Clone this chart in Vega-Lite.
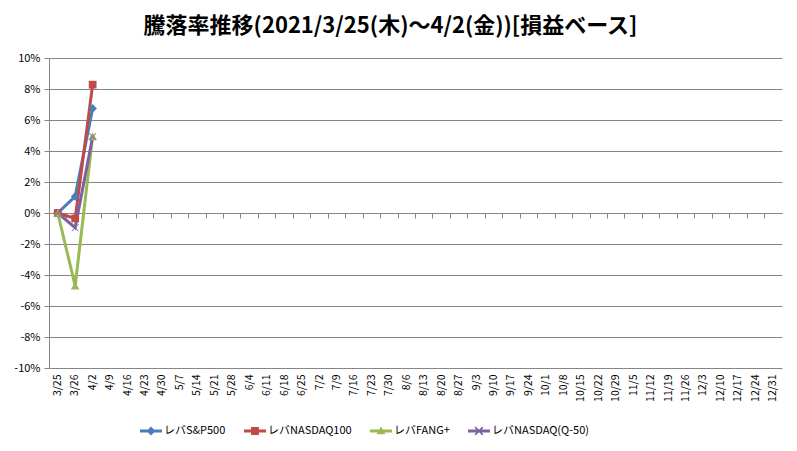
{
  "$schema": "https://vega.github.io/schema/vega-lite/v6.json",
  "width": 733,
  "height": 310,
  "autosize": "none",
  "padding": {"left": 49, "top": 58, "right": 15, "bottom": 83},
  "background": "white",
  "title": {
    "text": "騰落率推移(2021/3/25(木)～4/2(金))[損益ベース]",
    "fontSize": 22,
    "fontWeight": "bold",
    "font": "Noto Sans CJK JP",
    "color": "#000000",
    "anchor": "middle",
    "dx": -25,
    "offset": 14
  },
  "config": {
    "view": {"stroke": null},
    "font": "Noto Sans CJK JP",
    "axis": {"labelColor": "#000000", "labelFont": "Noto Sans CJK JP"}
  },
  "data": {
    "values": [
      {"date": "3/25", "series": "レバS&P500", "value": 0},
      {"date": "3/26", "series": "レバS&P500", "value": 0.0107},
      {"date": "4/2", "series": "レバS&P500", "value": 0.0675},
      {"date": "3/25", "series": "レバNASDAQ100", "value": 0},
      {"date": "3/26", "series": "レバNASDAQ100", "value": -0.0035},
      {"date": "4/2", "series": "レバNASDAQ100", "value": 0.0828},
      {"date": "3/25", "series": "レバFANG+", "value": 0},
      {"date": "3/26", "series": "レバFANG+", "value": -0.047},
      {"date": "4/2", "series": "レバFANG+", "value": 0.0495},
      {"date": "3/25", "series": "レバNASDAQ(Q-50)", "value": 0},
      {"date": "3/26", "series": "レバNASDAQ(Q-50)", "value": -0.0095},
      {"date": "4/2", "series": "レバNASDAQ(Q-50)", "value": 0.0492}
    ]
  },
  "encoding": {
    "x": {
      "field": "date",
      "type": "ordinal",
      "sort": null,
      "scale": {
        "type": "band",
        "paddingInner": 0,
        "paddingOuter": 0,
        "domain": ["3/25", "3/26", "4/2", "4/9", "4/16", "4/23", "4/30", "5/7", "5/14", "5/21", "5/28", "6/4", "6/11", "6/18", "6/25", "7/2", "7/9", "7/16", "7/23", "7/30", "8/6", "8/13", "8/20", "8/27", "9/3", "9/10", "9/17", "9/24", "10/1", "10/8", "10/15", "10/22", "10/29", "11/5", "11/12", "11/19", "11/26", "12/3", "12/10", "12/17", "12/24", "12/31"]
      },
      "axis": null
    },
    "y": {
      "field": "value",
      "type": "quantitative",
      "scale": {"domain": [-0.1, 0.1], "nice": false, "zero": false},
      "axis": {
        "title": null,
        "values": [-0.1, -0.08, -0.06, -0.04, -0.02, 0, 0.02, 0.04, 0.06, 0.08, 0.1],
        "labelExpr": "round(datum.value * 100) + '%'",
        "labelFontSize": 11,
        "labelPadding": 4,
        "grid": true,
        "gridColor": "#868686",
        "gridWidth": 1,
        "domainColor": "#868686",
        "tickColor": "#868686",
        "tickSize": 5
      }
    },
    "color": {
      "field": "series",
      "type": "nominal",
      "scale": {
        "domain": ["レバS&P500", "レバNASDAQ100", "レバFANG+", "レバNASDAQ(Q-50)"],
        "range": ["#4A7EBB", "#BE4B48", "#98B954", "#7D60A0"]
      },
      "legend": {
        "orient": "none",
        "legendX": 91,
        "legendY": 362,
        "direction": "horizontal",
        "title": null,
        "labelFontSize": 11,
        "labelColor": "#000000",
        "labelOffset": 2,
        "symbolSize": 484,
        "columnPadding": 18,
        "encode": {
          "symbols": {
            "update": {
              "shape": {"signal": "datum.value === 'レバS&P500' ? 'M-1,-0.14H-0.27L0,-0.41L0.27,-0.14H1V0.14H0.27L0,0.41L-0.27,0.14H-1Z' : datum.value === 'レバNASDAQ100' ? 'M-1,-0.14H-0.36V-0.36H0.36V-0.14H1V0.14H0.36V0.36H-0.36V0.14H-1Z' : datum.value === 'レバFANG+' ? 'M-1,-0.14H-0.15L0,-0.4L0.15,-0.14H1V0.14H0.31L0.4,0.3H-0.4L-0.31,0.14H-1Z' : 'M-1,-0.14H1V0.14H-1ZM-0.3,-0.4L0.4,0.3L0.3,0.4L-0.4,-0.3ZM-0.4,0.3L0.3,-0.4L0.4,-0.3L-0.3,0.4Z'"},
              "fill": {"scale": "color", "field": "value"},
              "stroke": {"value": "transparent"},
              "strokeWidth": {"value": 0},
              "opacity": {"value": 1}
            }
          }
        }
      }
    }
  },
  "layer": [
    {
      "mark": {"type": "line", "strokeWidth": 3},
      "encoding": {
        "x": {
          "field": "date",
          "type": "ordinal",
          "sort": null,
          "axis": {
            "title": null,
            "orient": "bottom",
            "labelAngle": -90,
            "labelFontSize": 10.5,
            "labelPadding": 6,
            "domain": false,
            "ticks": false,
            "grid": false
          }
        }
      }
    },
    {
      "transform": [{"filter": "datum.series === 'レバS&P500'"}],
      "mark": {"type": "point", "filled": true, "opacity": 1, "size": 75, "shape": "diamond"},
      "encoding": {
        "x": {
          "field": "date",
          "type": "ordinal",
          "sort": null,
          "axis": {
            "title": null,
            "orient": "bottom",
            "labels": false,
            "offset": -155,
            "domainColor": "#868686",
            "tickColor": "#868686",
            "tickSize": 5,
            "bandPosition": 0,
            "grid": false
          }
        }
      }
    },
    {
      "transform": [{"filter": "datum.series === 'レバNASDAQ100'"}],
      "mark": {"type": "point", "filled": true, "opacity": 1, "size": 60, "shape": "square"}
    },
    {
      "transform": [{"filter": "datum.series === 'レバFANG+'"}],
      "mark": {"type": "point", "filled": true, "opacity": 1, "size": 75, "shape": "triangle-up"}
    },
    {
      "transform": [{"filter": "datum.series === 'レバNASDAQ(Q-50)'"}],
      "mark": {"type": "point", "filled": true, "opacity": 1, "size": 55, "shape": "M-0.85,-1L1,0.85L0.85,1L-1,-0.85ZM-1,0.85L0.85,-1L1,-0.85L-0.85,1Z"}
    }
  ],
  "resolve": {"axis": {"x": "independent"}}
}
